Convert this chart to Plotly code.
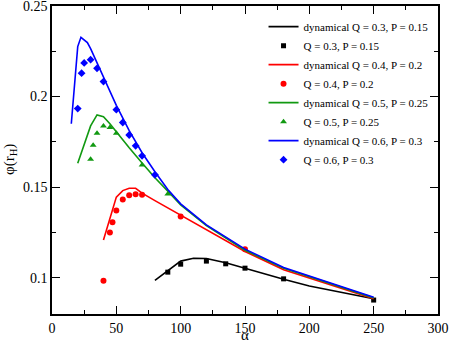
import plotly.graph_objects as go

# dynamical curves
dyn03_x = [80, 90, 100, 110, 120, 135, 150, 180, 200, 250]
dyn03_y = [0.0985, 0.1040, 0.1092, 0.1108, 0.1106, 0.1083, 0.1052, 0.0992, 0.0955, 0.0884]
dyn04_x = [40, 50, 55, 60, 65, 70, 80, 100, 120, 150, 180, 250]
dyn04_y = [0.1209, 0.1445, 0.1481, 0.1494, 0.1494, 0.1467, 0.1426, 0.1345, 0.1265, 0.1145, 0.1044, 0.0884]
dyn05_x = [20, 30, 35, 40, 45, 50, 60, 70, 80, 90, 100, 120, 150, 180, 250]
dyn05_y = [0.1632, 0.1838, 0.1899, 0.1889, 0.1850, 0.1805, 0.1718, 0.1634, 0.1552, 0.1478, 0.1402, 0.1288, 0.1152, 0.1053, 0.0889]
dyn06_x = [15, 20, 22.5, 27.5, 30, 35, 40, 50, 60, 70, 80, 90, 100, 120, 150, 180, 250]
dyn06_y = [0.1850, 0.2276, 0.2327, 0.2298, 0.2265, 0.2185, 0.2110, 0.1952, 0.1812, 0.1690, 0.1585, 0.1487, 0.1408, 0.1292, 0.1158, 0.1057, 0.0893]

# point data
pts03_x = [90, 100, 120, 135, 150, 180, 250]
pts03_y = [0.1031, 0.1075, 0.1092, 0.1077, 0.1053, 0.0994, 0.0877]
pts04_x = [40, 45, 47, 50, 55, 60, 65, 70, 100, 150]
pts04_y = [0.0983, 0.1250, 0.1307, 0.1371, 0.1432, 0.1456, 0.1461, 0.1458, 0.1338, 0.1158]
pts05_x = [30, 32, 35, 40, 45, 50, 70, 90]
pts05_y = [0.1654, 0.1732, 0.1798, 0.1838, 0.1829, 0.1798, 0.1623, 0.1463]
pts06_x = [20, 23, 25, 30, 35, 40, 50, 55, 60, 65, 70, 80]
pts06_y = [0.1934, 0.2129, 0.2186, 0.2204, 0.2156, 0.2083, 0.1928, 0.1857, 0.1788, 0.1728, 0.1673, 0.1568]

labels = ["Q = 0.3, P = 0.15", "Q = 0.4, P = 0.2", "Q = 0.5, P = 0.25", "Q = 0.6, P = 0.3"]
colors = ["#000000", "#ff0000", "#119911", "#0000ff"]
symbols = ["square", "circle", "triangle-up", "diamond"]
msizes = [5, 6, 6, 6]

x_tick_vals = [0, 50, 100, 150, 200, 250, 300]
y_tick_vals = [0.1, 0.15, 0.2, 0.25]
y_tick_text = ["0.1", "0.15", "0.2", "0.25"]

dyn = [(dyn03_x, dyn03_y), (dyn04_x, dyn04_y), (dyn05_x, dyn05_y), (dyn06_x, dyn06_y)]
pts = [(pts03_x, pts03_y), (pts04_x, pts04_y), (pts05_x, pts05_y), (pts06_x, pts06_y)]

fig = go.Figure()
for i in range(4):
    fig.add_trace(go.Scatter(x=dyn[i][0], y=dyn[i][1], mode="lines",
                             line=dict(color=colors[i], width=1.6),
                             name="dynamical " + labels[i]))
    fig.add_trace(go.Scatter(x=pts[i][0], y=pts[i][1], mode="markers",
                             marker=dict(color=colors[i], symbol=symbols[i], size=msizes[i]),
                             name=labels[i]))

axis_common = dict(showgrid=False, zeroline=False, showline=True, linecolor="#000000",
                   linewidth=1.5, ticks="inside", ticklen=8, tickwidth=1.2, tickcolor="#000000",
                   mirror="ticks", automargin=False, ticklabeloverflow="allow",
                   tickfont=dict(family="Liberation Serif", size=14, color="#000000"),
                   minor=dict(ticks="inside", ticklen=4, tickwidth=1.2, tickcolor="#000000"))

fig.update_xaxes(range=[0, 300], tickvals=x_tick_vals,
                 minor_dtick=25, minor_tick0=0, ticklabelstandoff=0,
                 **axis_common)
fig.update_yaxes(range=[0.08, 0.25], tickvals=y_tick_vals, ticktext=y_tick_text,
                 minor_dtick=0.025, minor_tick0=0,
                 **axis_common)

fig.add_annotation(text="α", xref="paper", yref="paper", x=0.5, y=0, yshift=-21,
                   xanchor="center", yanchor="middle", showarrow=False,
                   font=dict(family="Liberation Serif", size=15, color="#000"))
fig.add_annotation(text="φ(r<sub>H</sub>)", xref="paper", yref="paper", x=0, y=0.5, xshift=-42,
                   xanchor="center", yanchor="middle", textangle=-90, showarrow=False,
                   font=dict(family="Liberation Serif", size=15, color="#000"))

fig.update_layout(
    width=450, height=342,
    margin=dict(l=52, r=12, t=6, b=28),
    paper_bgcolor="white", plot_bgcolor="white",
    font=dict(family="Liberation Serif", color="#000"),
    legend=dict(x=0.548, y=0.98, xanchor="left", yanchor="top",
                bgcolor="rgba(0,0,0,0)", borderwidth=0, tracegroupgap=0,
                itemwidth=30,
                font=dict(family="Liberation Serif", size=11, color="#000")),
    showlegend=True,
)

fig.write_html("out.html", config={"displayModeBar": False},
               post_script="document.body.style.margin='0px';")
